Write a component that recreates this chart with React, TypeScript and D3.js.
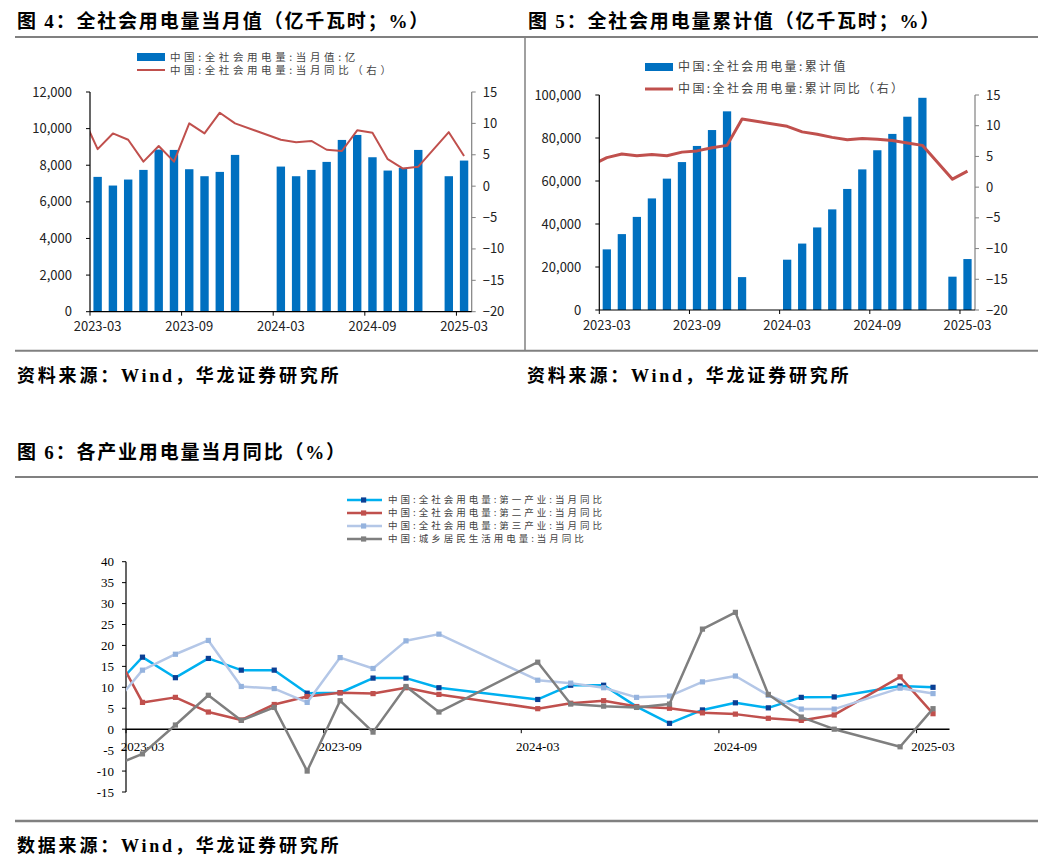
import * as d3 from "d3";

// 25 monthly slots shared by all three charts
const months = [
  "2023-03", "2023-04", "2023-05", "2023-06", "2023-07", "2023-08", "2023-09",
  "2023-10", "2023-11", "2023-12", "2024-01", "2024-02", "2024-03", "2024-04",
  "2024-05", "2024-06", "2024-07", "2024-08", "2024-09", "2024-10", "2024-11",
  "2024-12", "2025-01", "2025-02", "2025-03",
];
const tickMonths = ["2023-03", "2023-09", "2024-03", "2024-09", "2025-03"];

// fig 4: monthly consumption (亿千瓦时) and yoy (%)
const monthlyValue = [7364, 6891, 7218, 7745, 8855, 8836, 7782, 7400, 7636, 8564, null, null,
  7927, 7400, 7745, 8182, 9382, 9655, 8436, 7709, 7855, 8836, null, 7400, 8255];
const monthlyYoy = [5.9, 8.4, 7.4, 3.9, 6.4, 3.9, 10.0, 8.4, 11.7, 10.0, null, null,
  7.4, 7.0, 7.2, 5.8, 5.6, 8.9, 8.5, 4.3, 2.8, 3.1, null, 8.6, 4.8];
const monthlyYoyPrev = 11.2;

// fig 5: cumulative consumption and cumulative yoy
const cumValue = [28200, 35300, 43300, 51900, 61100, 68800, 76300, 83700, 92400, 15300, null, null,
  23400, 30900, 38400, 46800, 56300, 65400, 74300, 81900, 89900, 98700, null, 15500, 23700];
const cumYoy = [4.8, 5.4, 5.1, 5.3, 5.1, 5.7, 5.9, 6.4, 6.8, 11.1, null, null,
  9.9, 9.0, 8.6, 8.1, 7.7, 7.9, 7.8, 7.6, 7.2, 6.8, null, 1.3, 2.6];
const cumYoyPrev = 3.6;

// fig 6: yoy by sector
const primaryYoy = [17.2, 12.3, 16.9, 14.1, 14.1, 8.6, 8.7, 12.2, 12.2, 9.9, null, null,
  7.1, 10.5, 10.5, 5.4, 1.4, 4.6, 6.3, 5.1, 7.6, 7.7, null, 10.3, 10.0];
const secondaryYoy = [6.4, 7.6, 4.1, 2.2, 5.9, 7.8, 8.7, 8.5, 9.9, 8.3, null, null,
  4.9, 6.2, 6.8, 5.4, 5.0, 3.9, 3.6, 2.6, 2.1, 3.4, null, 12.5, 3.7];
const tertiaryYoy = [14.1, 17.9, 21.2, 10.2, 9.7, 6.4, 17.1, 14.5, 21.1, 22.7, null, null,
  11.7, 11.0, 9.9, 7.6, 7.9, 11.3, 12.7, 8.1, 4.8, 4.8, null, 9.8, 8.5];
const residentYoy = [-5.9, 1.0, 8.1, 2.1, 5.2, -10.0, 6.8, -0.7, 10.2, 4.1, null, null,
  16.0, 6.0, 5.5, 5.2, 6.0, 23.9, 27.9, 8.3, 2.9, 0.0, null, -4.2, 4.9];
const sectorPrev = [8.8, 21.0, 4.7, -9.1];

const sectorNames = [
  "中国:全社会用电量:第一产业:当月同比",
  "中国:全社会用电量:第二产业:当月同比",
  "中国:全社会用电量:第三产业:当月同比",
  "中国:城乡居民生活用电量:当月同比",
];
const sectorLine = ["#00B0F0", "#C0504D", "#B4C7E7", "#7F7F7F"];
const sectorMarker = ["#0B3F94", "#C0504D", "#95B3DE", "#7F7F7F"];

const BAR = "#0070C0";
const RED = "#C0504D";
const TICK_FONT = "'Noto Sans CJK SC', 'Noto Sans', sans-serif";
const TITLE_FONT = "'Liberation Serif', 'Noto Sans CJK SC', serif";

type BarLineProps = {
  id: string;
  x0: number; x1: number; yTop: number; yBottom: number;
  bars: (number | null)[];
  line: (number | null)[];
  prev: number;
  leftMax: number;
  leftStep: number;
  lineWidth: number;
  legend: { x: number; y1: number; y2: number; text1: string; text2: string; size: number; spacing: number };
};

function BarLine({ id, x0, x1, yTop, yBottom, bars, line, prev, leftMax, leftStep, lineWidth, legend }: BarLineProps) {
  const x = d3.scaleBand().domain(months).range([x0, x1]).paddingInner(0.45).paddingOuter(0.225);
  const step = x.step();
  const yL = d3.scaleLinear().domain([0, leftMax]).range([yBottom, yTop]);
  const yR = d3.scaleLinear().domain([-20, 15]).range([yBottom, yTop]);
  const cx = (m: string) => (x(m) as number) + x.bandwidth() / 2;

  const pts: [number, number][] = [[x0 - step / 2, yR(prev)]];
  line.forEach((v, i) => { if (v != null) pts.push([cx(months[i]), yR(v)]); });
  const path = d3.line()(pts) as string;

  const leftTicks = d3.range(0, leftMax + 1, leftStep);
  const rightTicks = d3.range(-20, 16, 5);
  const fmtR = d3.format("d");

  return (
    <g>
      <clipPath id={id}>
        <rect x={x0} y={yTop - 10} width={x1 - x0} height={yBottom - yTop + 20} />
      </clipPath>
      {bars.map((v, i) => v == null ? null : (
        <rect key={i} x={x(months[i])} y={yL(v)} width={x.bandwidth()} height={yBottom - yL(v)} fill={BAR} />
      ))}
      <path d={path} fill="none" stroke={RED} strokeWidth={lineWidth} clipPath={`url(#${id})`} strokeLinejoin="round" />
      {/* left axis */}
      <line x1={x0} x2={x0} y1={yTop} y2={yBottom} stroke="#000" strokeWidth={1.2} />
      {leftTicks.map((t) => (
        <g key={t}>
          <line x1={x0 - 4} x2={x0} y1={yL(t)} y2={yL(t)} stroke="#000" />
          <text x={x0 - 18} y={yL(t)} dy="0.35em" textAnchor="end" fontSize={13} fill="#222" fontFamily={TICK_FONT}>
            {d3.format(",")(t)}
          </text>
        </g>
      ))}
      {/* right axis */}
      <line x1={x1} x2={x1} y1={yTop} y2={yBottom} stroke="#808080" strokeWidth={1.2} />
      {rightTicks.map((t) => (
        <g key={t}>
          <line x1={x1} x2={x1 + 4} y1={yR(t)} y2={yR(t)} stroke="#808080" />
          <text x={x1 + 11} y={yR(t)} dy="0.35em" fontSize={13} fill="#222" fontFamily={TICK_FONT}>
            {fmtR(t)}
          </text>
        </g>
      ))}
      {/* x axis */}
      <line x1={x0} x2={x1} y1={yBottom} y2={yBottom} stroke="#000" strokeWidth={1.2} />
      {tickMonths.map((m) => {
        const tx = (x(m) as number) - x.paddingOuter() * step;
        return (
          <g key={m}>
            <line x1={tx} x2={tx} y1={yBottom} y2={yBottom + 4} stroke="#000" />
            <text x={cx(m)} y={yBottom + 15} dy="0.35em" textAnchor="middle" fontSize={13} fill="#222" fontFamily={TICK_FONT}>
              {m}
            </text>
          </g>
        );
      })}
      {/* legend */}
      <rect x={legend.x} y={legend.y1 - 4} width={28} height={8} fill={BAR} />
      <text x={legend.x + 33} y={legend.y1} dy="0.35em" fontSize={legend.size} fill="#444" fontFamily={TICK_FONT} letterSpacing={legend.spacing}>
        {legend.text1}
      </text>
      <line x1={legend.x} x2={legend.x + 28} y1={legend.y2} y2={legend.y2} stroke={RED} strokeWidth={lineWidth} />
      <text x={legend.x + 33} y={legend.y2} dy="0.35em" fontSize={legend.size} fill="#444" fontFamily={TICK_FONT} letterSpacing={legend.spacing}>
        {legend.text2}
      </text>
    </g>
  );
}

function SectorChart() {
  const x0 = 126, x1 = 949.5, yTop = 561.7, yBottom = 792;
  const x = d3.scaleBand().domain(months).range([x0, x1]);
  const step = x.step();
  const y = d3.scaleLinear().domain([-15, 40]).range([yBottom, yTop]);
  const cx = (m: string) => (x(m) as number) + step / 2;
  const series = [primaryYoy, secondaryYoy, tertiaryYoy, residentYoy];
  const yTicks = d3.range(-15, 41, 5);

  return (
    <g>
      <clipPath id="clip6">
        <rect x={x0} y={yTop - 10} width={x1 - x0 + 10} height={yBottom - yTop + 20} />
      </clipPath>
      {/* axes */}
      <line x1={x0} x2={x0} y1={yTop} y2={yBottom} stroke="#000" strokeWidth={1.2} />
      {yTicks.map((t) => (
        <g key={t}>
          <line x1={x0 - 4} x2={x0} y1={y(t)} y2={y(t)} stroke="#000" />
          <text x={x0 - 12} y={y(t)} dy="0.35em" textAnchor="end" fontSize={13} fontFamily="'Liberation Serif', serif" fill="#000">
            {String(t)}
          </text>
        </g>
      ))}
      <line x1={x0} x2={x1} y1={y(0)} y2={y(0)} stroke="#000" strokeWidth={1.4} />
      {tickMonths.map((m) => (
        <g key={m}>
          <line x1={x(m)} x2={x(m)} y1={y(0)} y2={y(0) + 4} stroke="#000" />
          <text x={cx(m)} y={y(0) + 17} dy="0.35em" textAnchor="middle" fontSize={13} fontFamily="'Liberation Serif', serif" fill="#000">
            {m}
          </text>
        </g>
      ))}
      {series.map((s, k) => {
        const pts: [number, number][] = [[x0 - step / 2, y(sectorPrev[k])]];
        s.forEach((v, i) => { if (v != null) pts.push([cx(months[i]), y(v)]); });
        return (
          <g key={k} clipPath="url(#clip6)">
            <path d={d3.line()(pts) as string} fill="none" stroke={sectorLine[k]} strokeWidth={2.5} strokeLinejoin="round" />
            {pts.slice(1).map((p, i) => (
              <rect key={i} x={p[0] - 2.6} y={p[1] - 2.6} width={5.2} height={5.2} fill={sectorMarker[k]} />
            ))}
          </g>
        );
      })}
      {/* legend */}
      {sectorNames.map((n, k) => {
        const ly = 500 + k * 13;
        return (
          <g key={n}>
            <line x1={347} x2={382} y1={ly} y2={ly} stroke={sectorLine[k]} strokeWidth={2.5} />
            <rect x={361} y={ly - 2.6} width={5.2} height={5.2} fill={sectorMarker[k]} />
            <text x={388} y={ly} dy="0.35em" fontSize={9.5} fill="#444" fontFamily={TICK_FONT} letterSpacing={3}>
              {n}
            </text>
          </g>
        );
      })}
    </g>
  );
}

export default function App() {
  const W = 1049, H = 867;
  return (
    <svg width={W} height={H} style={{ position: "absolute", left: 0, top: 0, background: "#fff" }}>
      <rect width={W} height={H} fill="#fff" />
      {/* titles */}
      <text x={17} y={21} dy="0.35em" fontSize={19} fontWeight="bold" fontFamily={TITLE_FONT} letterSpacing={1.8}>
        图 4：全社会用电量当月值（亿千瓦时；%）
      </text>
      <text x={528} y={21} dy="0.35em" fontSize={19} fontWeight="bold" fontFamily={TITLE_FONT} letterSpacing={1.8}>
        图 5：全社会用电量累计值（亿千瓦时；%）
      </text>
      <line x1={15} x2={1038} y1={37} y2={37} stroke="#808080" strokeWidth={2} />
      <line x1={525} x2={525} y1={37} y2={350.7} stroke="#808080" strokeWidth={1.5} />
      <line x1={15} x2={1038} y1={350.7} y2={350.7} stroke="#808080" strokeWidth={2} />

      <BarLine
        id="clip4" x0={90} x1={471.7} yTop={92} yBottom={311.7}
        bars={monthlyValue} line={monthlyYoy} prev={monthlyYoyPrev}
        leftMax={12000} leftStep={2000} lineWidth={2}
        legend={{ x: 137, y1: 57, y2: 70, size: 10.5, spacing: 3.6,
          text1: "中国:全社会用电量:当月值:亿", text2: "中国:全社会用电量:当月同比（右）" }}
      />
      <BarLine
        id="clip5" x0={599.3} x1={975} yTop={95} yBottom={310}
        bars={cumValue} line={cumYoy} prev={cumYoyPrev}
        leftMax={100000} leftStep={20000} lineWidth={3}
        legend={{ x: 645, y1: 67, y2: 89, size: 12, spacing: 2.4,
          text1: "中国:全社会用电量:累计值", text2: "中国:全社会用电量:累计同比（右）" }}
      />

      <text x={17} y={376} dy="0.35em" fontSize={18} fontWeight="bold" fontFamily={TITLE_FONT} letterSpacing={2.8}>
        资料来源：Wind，华龙证券研究所
      </text>
      <text x={527} y={376} dy="0.35em" fontSize={18} fontWeight="bold" fontFamily={TITLE_FONT} letterSpacing={2.8}>
        资料来源：Wind，华龙证券研究所
      </text>

      <text x={17} y={452} dy="0.35em" fontSize={19} fontWeight="bold" fontFamily={TITLE_FONT} letterSpacing={1.8}>
        图 6：各产业用电量当月同比（%）
      </text>
      <line x1={15} x2={1038} y1={477} y2={477} stroke="#808080" strokeWidth={2} />

      <SectorChart />

      <line x1={15} x2={1038} y1={821} y2={821} stroke="#808080" strokeWidth={2.5} />
      <text x={17} y={846} dy="0.35em" fontSize={18} fontWeight="bold" fontFamily={TITLE_FONT} letterSpacing={2.8}>
        数据来源：Wind，华龙证券研究所
      </text>
    </svg>
  );
}
